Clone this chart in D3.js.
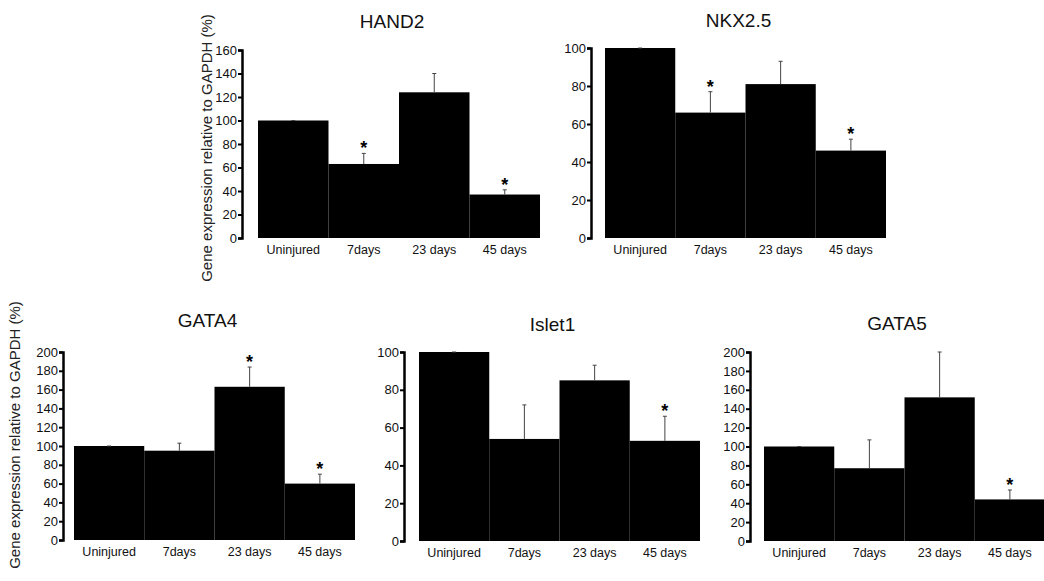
<!DOCTYPE html>
<html>
<head>
<meta charset="utf-8">
<script src="https://cdn.jsdelivr.net/npm/d3@7"></script>
<style>
  body { margin: 0; background: #fff; }
  svg { display: block; font-family: "Liberation Sans", Arial, sans-serif; }
  .axis path, .axis line { stroke: #000; }
  .axis path { stroke-width: 2.5; }
  .axis line { stroke-width: 2; }
</style>
</head>
<body>
<div id="chart"></div>
<script>
// categories shared by every panel
var categories = ["Uninjured", "7days", "23 days", "45 days"];

// values (% of GAPDH), error = SEM above the bar
var hand2Means = [100, 63, 124, 37],
    hand2Err   = [0, 9, 16, 4],
    hand2Star  = [false, true, false, true];

var nkx25Means = [100, 66, 81, 46],
    nkx25Err   = [0, 11, 12, 6],
    nkx25Star  = [false, true, false, true];

var gata4Means = [100, 95, 163, 60],
    gata4Err   = [0, 8, 21, 10],
    gata4Star  = [false, false, true, true];

var islet1Means = [100, 54, 85, 53],
    islet1Err   = [0, 18, 8, 13],
    islet1Star  = [false, false, false, true];

var gata5Means = [100, 77, 152, 44],
    gata5Err   = [0, 30, 48, 10],
    gata5Star  = [false, false, false, true];

var yTicksTo160 = [0, 20, 40, 60, 80, 100, 120, 140, 160],
    yTicksTo100 = [0, 20, 40, 60, 80, 100],
    yTicksTo200 = [0, 20, 40, 60, 80, 100, 120, 140, 160, 180, 200];

var yLabel = "Gene expression relative to GAPDH (%)";

var W = 1044, H = 581;

var svg = d3.select("#chart").append("svg")
    .attr("width", W)
    .attr("height", H);

// panel layout: axis x, top/bottom of the value range, bar span
var panels = [
  {title: "HAND2",  means: hand2Means,  err: hand2Err,  star: hand2Star,  ticks: yTicksTo160,
   axisX: 242, top: 50,  bottom: 238, x0: 258, x1: 540, titleY: 28},
  {title: "NKX2.5", means: nkx25Means,  err: nkx25Err,  star: nkx25Star,  ticks: yTicksTo100,
   axisX: 591, top: 48,  bottom: 238, x0: 605, x1: 886, titleY: 27},
  {title: "GATA4",  means: gata4Means,  err: gata4Err,  star: gata4Star,  ticks: yTicksTo200,
   axisX: 63,  top: 352, bottom: 540, x0: 74,  x1: 355, titleY: 327},
  {title: "Islet1", means: islet1Means, err: islet1Err, star: islet1Star, ticks: yTicksTo100,
   axisX: 404, top: 352, bottom: 541, x0: 419, x1: 700, titleY: 331},
  {title: "GATA5",  means: gata5Means,  err: gata5Err,  star: gata5Star,  ticks: yTicksTo200,
   axisX: 750, top: 352, bottom: 541, x0: 764, x1: 1045, titleY: 330}
];

panels.forEach(function(p) {
  var g = svg.append("g");

  var x = d3.scaleBand()
      .domain(categories)
      .range([p.x0, p.x1])
      .padding(0);

  var y = d3.scaleLinear()
      .domain([0, d3.max(p.ticks)])
      .range([p.bottom, p.top]);

  var data = categories.map(function(c, i) {
    return {cat: c, mean: p.means[i], err: p.err[i], star: p.star[i]};
  });

  // bars
  g.selectAll("rect.bar")
      .data(data)
    .enter().append("rect")
      .attr("class", "bar")
      .attr("x", function(d) { return x(d.cat); })
      .attr("y", function(d) { return y(d.mean); })
      .attr("width", x.bandwidth())
      .attr("height", function(d) { return y(0) - y(d.mean); })
      .attr("fill", "#000");

  // error bars (upper only)
  var cx = function(d) { return x(d.cat) + x.bandwidth() / 2; };
  g.selectAll("line.err")
      .data(data)
    .enter().append("line")
      .attr("class", "err")
      .attr("x1", cx).attr("x2", cx)
      .attr("y1", function(d) { return y(d.mean); })
      .attr("y2", function(d) { return y(d.mean + d.err); })
      .attr("stroke", "#444")
      .attr("stroke-width", 1);

  g.selectAll("line.cap")
      .data(data)
    .enter().append("line")
      .attr("class", "cap")
      .attr("x1", function(d) { return cx(d) - 2; })
      .attr("x2", function(d) { return cx(d) + 2; })
      .attr("y1", function(d) { return y(d.mean + d.err); })
      .attr("y2", function(d) { return y(d.mean + d.err); })
      .attr("stroke", "#444")
      .attr("stroke-width", 1);

  // significance stars
  g.selectAll("text.star")
      .data(data.filter(function(d) { return d.star; }))
    .enter().append("text")
      .attr("class", "star")
      .attr("x", cx)
      .attr("y", function(d) { return y(d.mean + d.err) + 1; })
      .attr("text-anchor", "middle")
      .style("font-size", "18px")
      .style("font-weight", "bold")
      .text("*");

  // y axis
  var ax = g.append("g")
      .attr("class", "axis")
      .attr("transform", "translate(" + p.axisX + ",0)")
      .call(d3.axisLeft(y).tickValues(p.ticks).tickSize(4).tickPadding(1));
  ax.attr("font-family", null).attr("font-size", null);
  ax.selectAll("text")
      .style("font-family", "'Liberation Sans', Arial, sans-serif")
      .style("font-size", "13px")
      .attr("fill", "#111");

  // category labels
  g.selectAll("text.cat")
      .data(categories)
    .enter().append("text")
      .attr("class", "cat")
      .attr("x", function(c) { return x(c) + x.bandwidth() / 2; })
      .attr("y", p.bottom + 16)
      .attr("text-anchor", "middle")
      .style("font-size", "12.5px")
      .attr("fill", "#111")
      .text(function(c) { return c; });

  // title
  g.append("text")
      .attr("x", (p.x0 + Math.min(p.x1, W)) / 2 - 7)
      .attr("y", p.titleY)
      .attr("text-anchor", "middle")
      .style("font-size", "19px")
      .attr("fill", "#111")
      .text(p.title);
});

// shared y labels, one per row
svg.append("text")
    .attr("transform", "translate(212,148) rotate(-90)")
    .attr("text-anchor", "middle")
    .style("font-size", "15px")
    .attr("fill", "#222")
    .text(yLabel);

svg.append("text")
    .attr("transform", "translate(20,435) rotate(-90)")
    .attr("text-anchor", "middle")
    .style("font-size", "15px")
    .attr("fill", "#222")
    .text(yLabel);
</script>
</body>
</html>
